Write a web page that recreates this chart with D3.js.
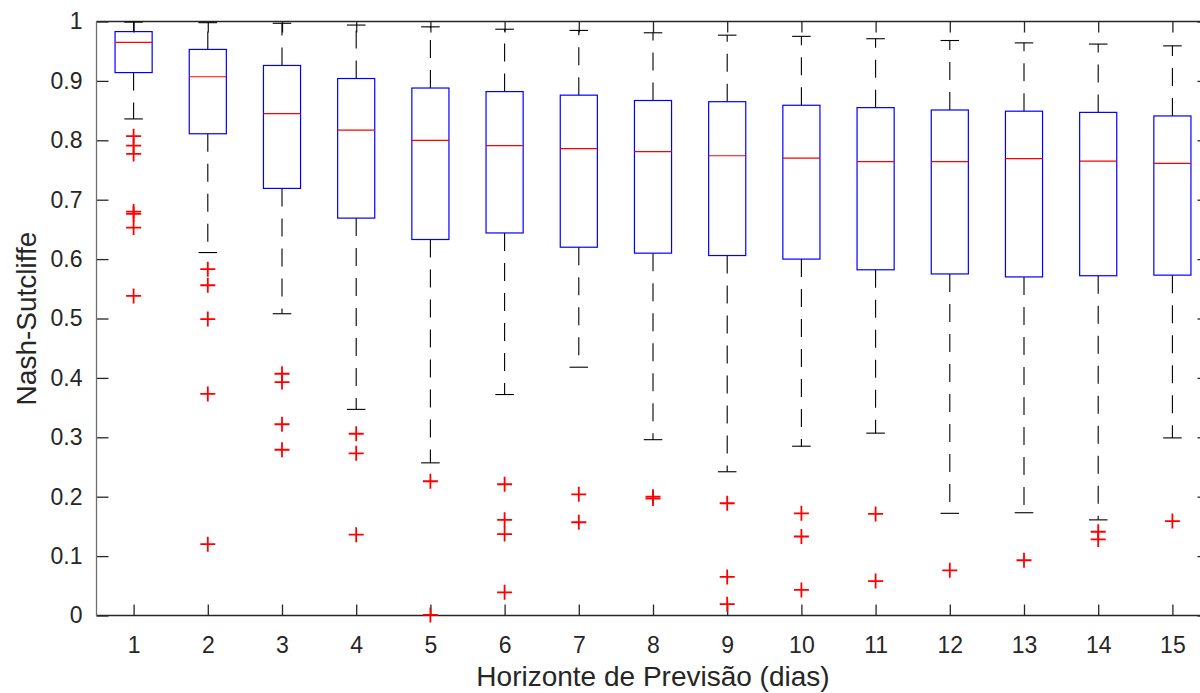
<!DOCTYPE html>
<html>
<head>
<meta charset="utf-8">
<script src="https://cdn.jsdelivr.net/npm/d3@7"></script>
<style>
  html, body { margin: 0; padding: 0; background: #fff; }
  svg { display: block; font-family: "Liberation Sans", Arial, Helvetica, sans-serif; }
</style>
</head>
<body>
<svg id="chart" width="1200" height="693"></svg>
<script>
// horizonte de previsão (dias)
const days = [1, 2, 3, 4, 5, 6, 7, 8, 9, 10, 11, 12, 13, 14, 15];
const upperWhisker = [0.999, 0.998, 0.997, 0.994, 0.991, 0.987, 0.985, 0.981, 0.977, 0.975, 0.971, 0.968, 0.964, 0.962, 0.959];
const q3 = [0.983, 0.953, 0.926, 0.904, 0.888, 0.882, 0.876, 0.867, 0.865, 0.859, 0.855, 0.851, 0.849, 0.847, 0.841];
const medians = [0.965, 0.907, 0.845, 0.817, 0.800, 0.791, 0.786, 0.781, 0.774, 0.770, 0.764, 0.764, 0.769, 0.765, 0.761];
const q1 = [0.914, 0.811, 0.719, 0.669, 0.633, 0.644, 0.620, 0.610, 0.606, 0.600, 0.582, 0.575, 0.570, 0.572, 0.573];
const lowerWhisker = [0.836, 0.611, 0.508, 0.347, 0.257, 0.372, 0.418, 0.296, 0.242, 0.285, 0.307, 0.172, 0.173, 0.161, 0.299];
const outliers = [
  [0.807, 0.791, 0.777, 0.680, 0.676, 0.653, 0.538],
  [0.583, 0.556, 0.499, 0.373, 0.120],
  [0.407, 0.393, 0.322, 0.279],
  [0.306, 0.273, 0.136],
  [0.226, 0.001],
  [0.221, 0.161, 0.137, 0.039],
  [0.204, 0.157],
  [0.200, 0.197],
  [0.189, 0.065, 0.019],
  [0.172, 0.133, 0.043],
  [0.171, 0.058],
  [0.076],
  [0.093],
  [0.141, 0.128],
  [0.159]
];
const yTicks = [0, 0.1, 0.2, 0.3, 0.4, 0.5, 0.6, 0.7, 0.8, 0.9, 1];

const boxes = days.map((day, i) => ({
  day,
  hi: upperWhisker[i], q3: q3[i], med: medians[i], q1: q1[i], lo: lowerWhisker[i],
  out: outliers[i]
}));

const svg = d3.select('#chart');
const plotLeft = 96.5, plotRight = 1209.5, plotTop = 21.5, plotBottom = 615.5;

const x = d3.scaleLinear().domain([0.5, 15.5]).range([plotLeft, plotRight]);
const y = d3.scaleLinear().domain([0, 1]).range([plotBottom, plotTop]);

const ink = '#262626';

// axes
const fmt = d => (d === 0 || d === 1) ? String(d) : d.toFixed(1);

const xAxis = svg.append('g').attr('transform', `translate(0, ${plotBottom})`)
  .call(d3.axisBottom(x).tickValues(days).tickSize(-11).tickSizeOuter(0).tickPadding(21));
const yAxis = svg.append('g').attr('transform', `translate(${plotLeft}, 0)`)
  .call(d3.axisLeft(y).tickValues(yTicks).tickFormat(fmt).tickSize(-12).tickSizeOuter(0).tickPadding(14));
const topAxis = svg.append('g').attr('transform', `translate(0, ${plotTop})`)
  .call(d3.axisTop(x).tickValues(days).tickFormat('').tickSize(-11).tickSizeOuter(0));
const rightAxis = svg.append('g').attr('transform', `translate(${plotRight}, 0)`)
  .call(d3.axisRight(y).tickValues(yTicks).tickFormat('').tickSize(-12).tickSizeOuter(0));

[xAxis, yAxis, topAxis, rightAxis].forEach(g => {
  g.select('.domain').remove();
  g.selectAll('.tick line').attr('stroke', ink).attr('stroke-width', 1.3);
  g.selectAll('.tick text').attr('fill', ink).style('font-size', '23px')
    .style('font-family', '"Liberation Sans", Arial, sans-serif');
});

// frame
svg.append('line').attr('x1', plotLeft).attr('x2', plotRight).attr('y1', plotTop).attr('y2', plotTop)
  .attr('stroke', ink).attr('stroke-width', 1.3);
svg.append('line').attr('x1', plotLeft).attr('x2', plotRight).attr('y1', plotBottom).attr('y2', plotBottom)
  .attr('stroke', ink).attr('stroke-width', 1.3);
svg.append('line').attr('x1', plotLeft).attr('x2', plotLeft).attr('y1', plotTop).attr('y2', plotBottom)
  .attr('stroke', '#6e6e6e').attr('stroke-width', 1.3);
svg.append('line').attr('x1', plotRight).attr('x2', plotRight).attr('y1', plotTop).attr('y2', plotBottom)
  .attr('stroke', ink).attr('stroke-width', 1.3);

// boxes
const g = svg.append('g').attr('class', 'boxes');
const boxHalf = 0.25, capHalf = 0.125;

const box = g.selectAll('.box').data(boxes).enter().append('g').attr('class', 'box');

box.append('line')
  .attr('x1', d => x(d.day)).attr('x2', d => x(d.day))
  .attr('y1', d => y(d.q3)).attr('y2', d => y(d.hi))
  .attr('stroke', '#000').attr('stroke-width', 1.1).attr('stroke-dasharray', '18,12');
box.append('line')
  .attr('x1', d => x(d.day)).attr('x2', d => x(d.day))
  .attr('y1', d => y(d.q1)).attr('y2', d => y(d.lo))
  .attr('stroke', '#000').attr('stroke-width', 1.1).attr('stroke-dasharray', '18,12');

box.append('line')
  .attr('x1', d => x(d.day - capHalf)).attr('x2', d => x(d.day + capHalf))
  .attr('y1', d => y(d.hi)).attr('y2', d => y(d.hi))
  .attr('stroke', '#000').attr('stroke-width', 1.1);
box.append('line')
  .attr('x1', d => x(d.day - capHalf)).attr('x2', d => x(d.day + capHalf))
  .attr('y1', d => y(d.lo)).attr('y2', d => y(d.lo))
  .attr('stroke', '#000').attr('stroke-width', 1.1);

box.append('rect')
  .attr('x', d => x(d.day - boxHalf)).attr('width', d => x(d.day + boxHalf) - x(d.day - boxHalf))
  .attr('y', d => y(d.q3)).attr('height', d => y(d.q1) - y(d.q3))
  .attr('fill', 'none').attr('stroke', '#0000ff').attr('stroke-width', 1.2);

box.append('line')
  .attr('x1', d => x(d.day - boxHalf)).attr('x2', d => x(d.day + boxHalf))
  .attr('y1', d => y(d.med)).attr('y2', d => y(d.med))
  .attr('stroke', '#ff0000').attr('stroke-width', 1.2);

// outliers
const plus = 7.5;
box.selectAll('.out').data(d => d.out.map(v => ({ day: d.day, v }))).enter()
  .append('path').attr('class', 'out')
  .attr('d', p => `M${x(p.day) - plus},${y(p.v)}H${x(p.day) + plus}M${x(p.day)},${y(p.v) - plus}V${y(p.v) + plus}`)
  .attr('stroke', '#ff0000').attr('stroke-width', 1.8).attr('fill', 'none');

// axis titles
svg.append('text')
  .attr('x', 653).attr('y', 686)
  .attr('text-anchor', 'middle').attr('fill', ink)
  .style('font-size', '28px')
  .text('Horizonte de Previsão (dias)');

svg.append('text')
  .attr('transform', `translate(36, ${(plotTop + plotBottom) / 2}) rotate(-90)`)
  .attr('text-anchor', 'middle').attr('fill', ink)
  .style('font-size', '28px')
  .text('Nash-Sutcliffe');
</script>
</body>
</html>
